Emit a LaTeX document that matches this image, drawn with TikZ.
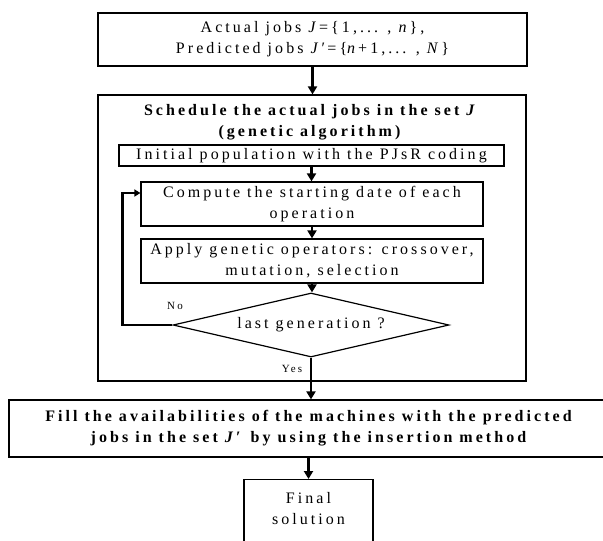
\documentclass[tikz,border=0pt]{standalone}
\usepackage{fontspec}
\setmainfont{Liberation Serif}[LetterSpace=19]
\usetikzlibrary{shapes.geometric,arrows.meta}
\begin{document}
\begin{tikzpicture}[x=1pt,y=-1pt,
  txt/.style={inner sep=0pt,align=center,font=\fontsize{16}{21}\selectfont},
  box/.style={txt,draw,line width=1.2pt},
  lab/.style={inner sep=0pt,font=\fontsize{11}{13}\selectfont},
  arr/.style={line width=2.5pt,-{Triangle[width=9pt,length=8pt]}},
  looparr/.style={line width=2.5pt,-{Triangle[width=7pt,length=6pt]}}]
\fill[white] (0,0) rectangle (603,541);
\useasboundingbox (0,0) rectangle (603,541);
\node[box,minimum width=429pt,minimum height=53pt] (top) at (312.5,39.5)
  {Actual jobs \textit{J}=\{1,... , \textit{n}\},\\Predicted jobs \textit{J′}=\{\textit{n}+1,... , \textit{N}\}};
\node[box,minimum width=428pt,minimum height=286pt] (sched) at (312,238) {};
\node[txt] (title) at (311,122.5)
  {\textbf{Schedule the actual jobs in the set \textit{J}}\\\textbf{(genetic algorithm)}};
\node[box,minimum width=385pt,minimum height=21pt] (init) at (311.5,155.5)
  {Initial population with the PJsR coding};
\node[box,minimum width=342pt,minimum height=44pt] (comp) at (312,204)
  {Compute the starting date of each\\operation};
\node[box,minimum width=342pt,minimum height=44pt] (apply) at (312,261)
  {Apply genetic operators: crossover,\\mutation, selection};
\node[txt,diamond,draw,line width=1.2pt,aspect=4.31,minimum width=276pt,minimum height=64pt] (dec) at (311,325)
  {last generation ?};
\node[box,minimum width=602pt,minimum height=57pt] (fill) at (310,428.5)
  {\textbf{Fill the availabilities of the machines with the predicted}\\\textbf{jobs in the set \textit{J′} by using the insertion method}};
\node[box,minimum width=129pt,minimum height=82pt,anchor=north] (final) at (308.5,479) {};
\node[txt] (finaltxt) at (308.5,508.5) {Final\\solution};
\node[lab] (no) at (175,306) {No};
\node[lab] (yes) at (292,369) {Yes};
\draw[arr] (top.south) -- (top.south |- sched.north);
\draw[arr] (init.south) -- (init.south |- comp.north);
\draw[arr] (comp.south) -- (comp.south |- apply.north);
\draw[arr] (apply.south) -- (apply.south |- dec.north);
\draw[arr] (dec.south) -- (dec.south |- fill.north);
\draw[arr] (final.north |- fill.south) -- (final.north);
\draw[looparr] (dec.west) -- ++(-50,0) |- ([yshift=11pt]comp.west);
\end{tikzpicture}
\end{document}
